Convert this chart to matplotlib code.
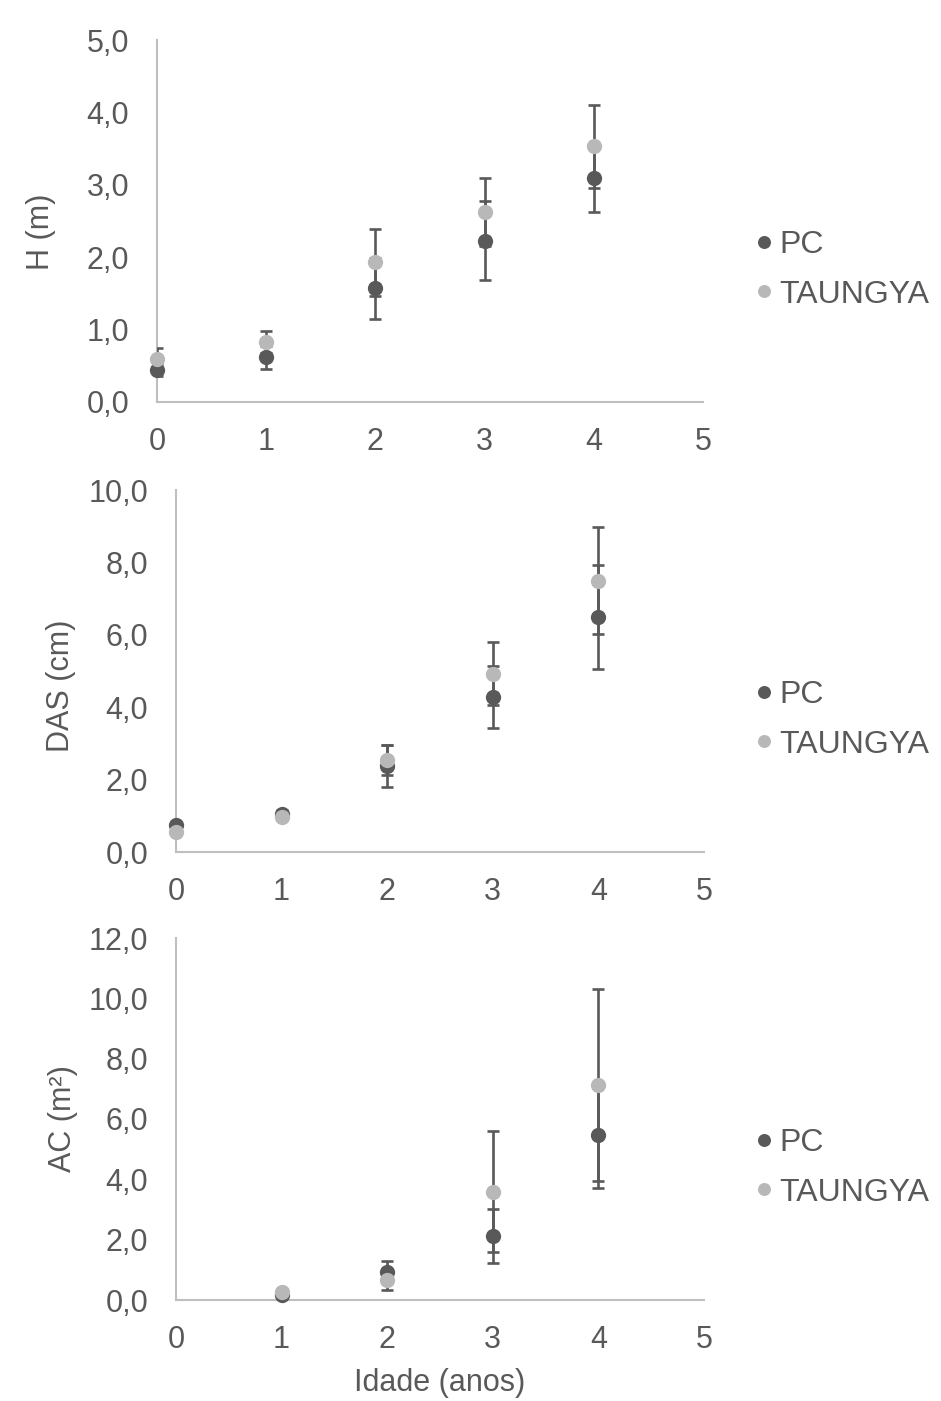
import matplotlib
matplotlib.use("Agg")
import matplotlib.pyplot as plt
from matplotlib.ticker import FuncFormatter, MultipleLocator

plt.rcParams['font.family'] = ['Liberation Sans', 'DejaVu Sans']

# ---- data ----
ages = [0, 1, 2, 3, 4]
h_pc = [0.44, 0.62, 1.57, 2.23, 3.09]
h_pc_err = [0.08, 0.16, 0.42, 0.55, 0.47]
h_tg = [0.60, 0.83, 1.93, 2.62, 3.53]
h_tg_err = [0.15, 0.15, 0.46, 0.47, 0.57]

das_pc = [0.75, 1.06, 2.37, 4.28, 6.49]
das_pc_err = [0.08, 0.10, 0.58, 0.85, 1.43]
das_tg = [0.54, 0.98, 2.55, 4.93, 7.50]
das_tg_err = [0.05, 0.08, 0.41, 0.87, 1.49]

ac_ages = [1, 2, 3, 4]
ac_pc = [0.15, 0.92, 2.12, 5.47]
ac_pc_err = [0.05, 0.37, 0.91, 1.76]
ac_tg = [0.25, 0.66, 3.59, 7.13]
ac_tg_err = [0.05, 0.33, 2.00, 3.18]

series_names = ['PC', 'TAUNGYA']
x_label = 'Idade (anos)'
y_labels = ['H (m)', 'DAS (cm)', 'AC (m²)']
y_max = [5, 10, 12]
y_step = [1, 2, 2]

# ---- style ----
C_PC = '#595959'
C_TG = '#b8b8b8'
C_ERR = '#595959'
C_AX = '#bfbfbf'
C_TXT = '#595959'
FS = 22

W, H = 941, 1401
fig = plt.figure(figsize=(W / 100, H / 100), dpi=100)

def fx(px):
    return px / W

def fy(py):
    return 1 - py / H

rects = [
    (fx(157), fy(402), fx(703) - fx(157), (402 - 40) / H),
    (fx(176), fy(852), fx(704) - fx(176), (852 - 490) / H),
    (fx(176), fy(1300), fx(704) - fx(176), (1300 - 938) / H),
]
label_pos = [(-0.185, 0.47), (-0.19, 0.46), (-0.185, 0.5)]
legend_y = [270, 720, 1168]

panels = [
    (ages, h_pc, h_pc_err, h_tg, h_tg_err),
    (ages, das_pc, das_pc_err, das_tg, das_tg_err),
    (ac_ages, ac_pc, ac_pc_err, ac_tg, ac_tg_err),
]

fmt = FuncFormatter(lambda v, p: f"{v:.1f}".replace('.', ','))

for i, (xs, pc, pce, tg, tge) in enumerate(panels):
    ax = fig.add_axes(rects[i])
    for ys, es, col, name in [(pc, pce, C_PC, series_names[0]), (tg, tge, C_TG, series_names[1])]:
        ax.errorbar(xs, ys, yerr=es, fmt='none', ecolor=C_ERR, elinewidth=1.9,
                    capsize=4.5, capthick=1.9, zorder=3)
        ax.plot(xs, ys, 'o', color=col, markersize=11, markeredgewidth=0,
                clip_on=False, zorder=4, label=name)
    ax.set_xlim(0, 5)
    ax.set_ylim(0, y_max[i])
    ax.xaxis.set_major_locator(MultipleLocator(1))
    ax.yaxis.set_major_locator(MultipleLocator(y_step[i]))
    ax.yaxis.set_major_formatter(fmt)
    for s in ['top', 'right']:
        ax.spines[s].set_visible(False)
    for s in ['left', 'bottom']:
        ax.spines[s].set_color(C_AX)
        ax.spines[s].set_linewidth(1.5)
    ax.tick_params(axis='both', length=0, labelsize=FS, colors=C_TXT)
    ax.tick_params(axis='y', pad=20)
    ax.tick_params(axis='x', pad=18)
    ax.set_ylabel(y_labels[i], fontsize=FS, color=C_TXT)
    ax.yaxis.set_label_coords(*label_pos[i])
    ax.legend(loc='center left', bbox_to_anchor=(fx(754), fy(legend_y[i])),
              bbox_transform=fig.transFigure, frameon=False, fontsize=23,
              handlelength=0.6, handletextpad=0.2, borderpad=0, borderaxespad=0,
              labelspacing=0.6, labelcolor=C_TXT, markerscale=0.85)

fig.text(fx(440), fy(1383), x_label, ha='center', va='center', fontsize=FS, color=C_TXT)

fig.savefig('out.png', dpi=100, facecolor='white')
